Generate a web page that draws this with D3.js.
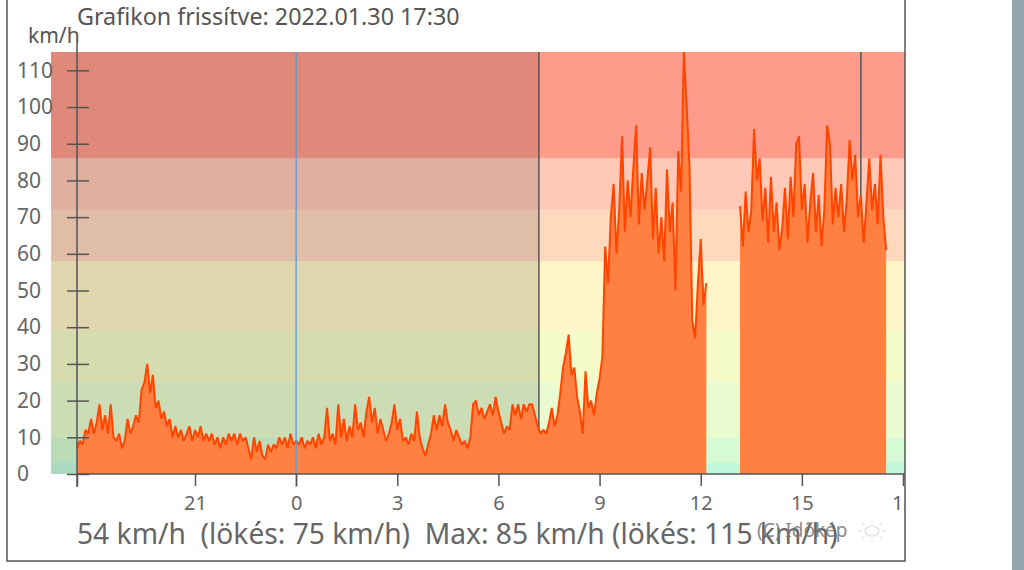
<!DOCTYPE html>
<html>
<head>
<meta charset="utf-8">
<script src="https://cdn.jsdelivr.net/npm/d3@7"></script>
<style>
  body { margin: 0; background: #fff; }
  text { font-family: "Noto Sans", sans-serif; white-space: pre; }
</style>
</head>
<body>
<div id="chart"></div>
<script>
const width = 1024;
const height = 570;

// hours are counted from 2022.01.29 00:00, samples every 5 minutes
const stepHours = 5 / 60;

// 17:30 -> 24:00
const speedEvening = [7, 9, 8, 12, 11, 15, 11, 14, 19, 12, 16, 11, 19, 10, 9, 11, 7, 9, 15, 11,
  13, 16, 14, 23, 25, 30, 22, 27, 18, 20, 15, 17, 13, 15, 10, 13, 10, 12, 9, 11,
  13, 9, 12, 10, 13, 9, 11, 9, 11, 8, 10, 7, 10, 8, 11, 9, 11, 8, 11, 9,
  10, 7, 4, 10, 6, 9, 5, 4, 8, 6, 8, 7, 10, 8, 10, 7, 11, 8, 9];
// 00:05 -> 07:15
const speedNight = [8, 10, 7, 9, 8, 10, 7, 11, 8, 10, 18, 9, 11, 8, 19, 10, 15, 9, 13, 10,
  19, 12, 14, 10, 17, 21, 14, 18, 11, 15, 12, 9, 11, 14, 19, 12, 15, 9, 10, 8,
  11, 9, 17, 10, 7, 5, 8, 11, 16, 12, 16, 13, 19, 14, 12, 9, 12, 10, 8, 9,
  7, 10, 19, 20, 16, 18, 15, 17, 19, 16, 21, 17, 14, 11, 13, 12, 19, 16, 19, 15,
  19, 17, 19, 19, 16, 13, 11];
// 07:20 -> 12:10
const speedMorning = [12, 11, 14, 18, 13, 16, 22, 29, 33, 38, 27, 29, 21, 17, 11, 28, 18, 20, 16, 22,
  26, 32, 62, 52, 70, 79, 60, 72, 92, 66, 80, 70, 83, 95, 68, 82, 72, 80, 89, 64,
  78, 60, 70, 58, 83, 66, 74, 50, 88, 77, 115, 100, 84, 42, 37, 52, 64, 46, 52];
// 13:10 -> 17:30
const speedAfternoon = [73, 62, 77, 66, 72, 94, 80, 86, 69, 78, 63, 81, 66, 74, 61, 67, 78, 64, 81, 70,
  90, 92, 72, 79, 63, 74, 82, 66, 76, 62, 72, 95, 90, 68, 78, 70, 79, 66, 75, 91,
  80, 87, 70, 76, 63, 74, 86, 72, 79, 68, 87, 70, 61];

const segmentStarts = [17.5, 24 + stepHours, 31.25 + stepHours, 37 + 10 / 60];

// wind strength bands (km/h) and their daylight colours
const bandLimits = [0, 3, 10, 25, 39, 58, 72, 86, 115];
const bandColors = ["#c2f8da", "#d4fbd3", "#e9fbcf", "#f5fbc8", "#fff5c8", "#ffd8bd", "#ffc8b7", "#ff9b8a"];

const prevSunset = 16.73; // 16:44
const sunrise = 31.2;     // 07:12
const sunset = 40.75;     // 16:45

const xTicks = [17.5, 21, 24, 27, 30, 33, 36, 39, 42];
const yTicks = d3.range(0, 111, 10);

const titleText = "Grafikon frissítve: 2022.01.30 17:30";
const summaryText = "54 km/h  (lökés: 75 km/h)  Max: 85 km/h (lökés: 115 km/h)";

const frameRight = 905;
const frameBottom = 561;

const svg = d3.select("#chart")
  .append("svg")
  .attr("width", width)
  .attr("height", height);

const x = d3.scaleLinear().domain([17.5, 42]).range([77, 903]);
const y = d3.scaleLinear().domain([0, 115]).range([474, 52]);

svg.append("defs").append("clipPath")
  .attr("id", "frameClip")
  .append("rect")
  .attr("x", 0).attr("y", 0)
  .attr("width", frameRight).attr("height", frameBottom);

const g = svg.append("g").attr("clip-path", "url(#frameClip)");

// background bands
const bands = d3.range(bandColors.length).map(i => ({ lo: bandLimits[i], hi: bandLimits[i + 1], color: bandColors[i] }));
g.selectAll(".band")
  .data(bands)
  .enter()
  .append("rect")
  .attr("class", "band")
  .attr("x", x(prevSunset))
  .attr("width", frameRight - x(prevSunset))
  .attr("y", d => y(d.hi))
  .attr("height", d => y(d.lo) - y(d.hi))
  .attr("fill", d => d.color);

// night shade
g.append("rect")
  .attr("x", x(prevSunset))
  .attr("width", x(sunrise) - x(prevSunset))
  .attr("y", y(115))
  .attr("height", y(0) - y(115))
  .attr("fill", "#000")
  .attr("opacity", 0.12);

// sunrise / sunset
g.selectAll(".sunline")
  .data([sunrise, sunset])
  .enter()
  .append("line")
  .attr("x1", d => x(d)).attr("x2", d => x(d))
  .attr("y1", y(115)).attr("y2", y(0))
  .attr("stroke", "#555")
  .attr("stroke-width", 1.5);

// wind data
const segments = [speedEvening, speedNight, speedMorning, speedAfternoon].map((vals, k) =>
  vals.map((v, i) => ({ h: segmentStarts[k] + i * stepHours, v: v })));
const series = [segments[0].concat(segments[1], segments[2]), segments[3]];

const area = d3.area()
  .x(d => x(d.h))
  .y0(y(0))
  .y1(d => y(d.v));

const line = d3.line()
  .x(d => x(d.h))
  .y(d => y(d.v));

g.selectAll(".area")
  .data(series)
  .enter()
  .append("path")
  .attr("d", area)
  .attr("fill", "#ff8040");

g.selectAll(".wline")
  .data(series)
  .enter()
  .append("path")
  .attr("d", line)
  .attr("fill", "none")
  .attr("stroke", "#ff4500")
  .attr("stroke-width", 2)
  .attr("stroke-linejoin", "bevel");

// midnight
g.append("line")
  .attr("x1", x(24)).attr("x2", x(24))
  .attr("y1", y(115)).attr("y2", 487)
  .attr("stroke", "#5b9bd5")
  .attr("stroke-width", 1.5)
  .attr("opacity", 0.85);

// x axis
g.append("line")
  .attr("x1", 77).attr("x2", frameRight)
  .attr("y1", y(0)).attr("y2", y(0))
  .attr("stroke", "#555").attr("stroke-width", 1.5);

const xAxis = g.append("g")
  .attr("transform", `translate(0,${y(0)})`)
  .call(d3.axisBottom(x)
    .tickValues(xTicks)
    .tickSize(12)
    .tickSizeOuter(0)
    .tickFormat(h => h === 17.5 ? "" : String(h % 24)));
xAxis.select(".domain").remove();
xAxis.selectAll(".tick line").attr("stroke", "#555").attr("stroke-width", 1.5);
xAxis.selectAll(".tick text")
  .attr("y", 22)
  .attr("fill", "#666")
  .style("font-size", "20px")
  .style("font-family", "Noto Sans, sans-serif");

// y axis
svg.append("line")
  .attr("x1", 77).attr("x2", 77)
  .attr("y1", 43).attr("y2", 487)
  .attr("stroke", "#555").attr("stroke-width", 1.5);

const yAxis = svg.append("g")
  .attr("transform", "translate(77,0)")
  .call(d3.axisLeft(y).tickValues(yTicks).tickSize(10));
yAxis.select(".domain").remove();
yAxis.selectAll(".tick line")
  .attr("x1", -10).attr("x2", 12)
  .attr("stroke", "#555").attr("stroke-width", 1.5);
yAxis.selectAll(".tick text")
  .attr("x", -60)
  .attr("text-anchor", "start")
  .attr("fill", "#666")
  .style("font-size", "21px")
  .style("font-family", "Noto Sans, sans-serif");

svg.append("text")
  .attr("x", 28).attr("y", 43)
  .attr("fill", "#555")
  .style("font-size", "21px")
  .text("km/h");

svg.append("text")
  .attr("x", 77).attr("y", 25)
  .attr("fill", "#555")
  .style("font-size", "23.3px")
  .text(titleText);

svg.append("text")
  .attr("x", 77).attr("y", 544)
  .attr("fill", "#666")
  .style("font-size", "28.2px")
  .text(summaryText);

// watermark sits over the summary line, as in the original
svg.append("text")
  .attr("x", 757).attr("y", 537)
  .attr("fill", "#777")
  .attr("opacity", 0.85)
  .style("font-size", "19px")
  .text("(C) Időkép");

// faint sun logo
const sun = svg.append("g").attr("transform", "translate(872,531)");
sun.append("ellipse").attr("rx", 7).attr("ry", 5)
  .attr("fill", "none").attr("stroke", "#ddd").attr("stroke-width", 1.2);
sun.selectAll(".ray")
  .data(d3.range(8))
  .enter()
  .append("line")
  .attr("x1", d => 10 * Math.cos(d * Math.PI / 4))
  .attr("y1", d => 8 * Math.sin(d * Math.PI / 4))
  .attr("x2", d => 14 * Math.cos(d * Math.PI / 4))
  .attr("y2", d => 11 * Math.sin(d * Math.PI / 4))
  .attr("stroke", "#ddd").attr("stroke-width", 1);

// frame
svg.append("path")
  .attr("d", `M7,0V${frameBottom}H${frameRight}V0`)
  .attr("fill", "none")
  .attr("stroke", "#555")
  .attr("stroke-width", 1.5);

// right edge strip
svg.append("rect")
  .attr("x", 1012).attr("y", 0)
  .attr("width", 12).attr("height", height)
  .attr("fill", "#94a5af");
</script>
</body>
</html>
